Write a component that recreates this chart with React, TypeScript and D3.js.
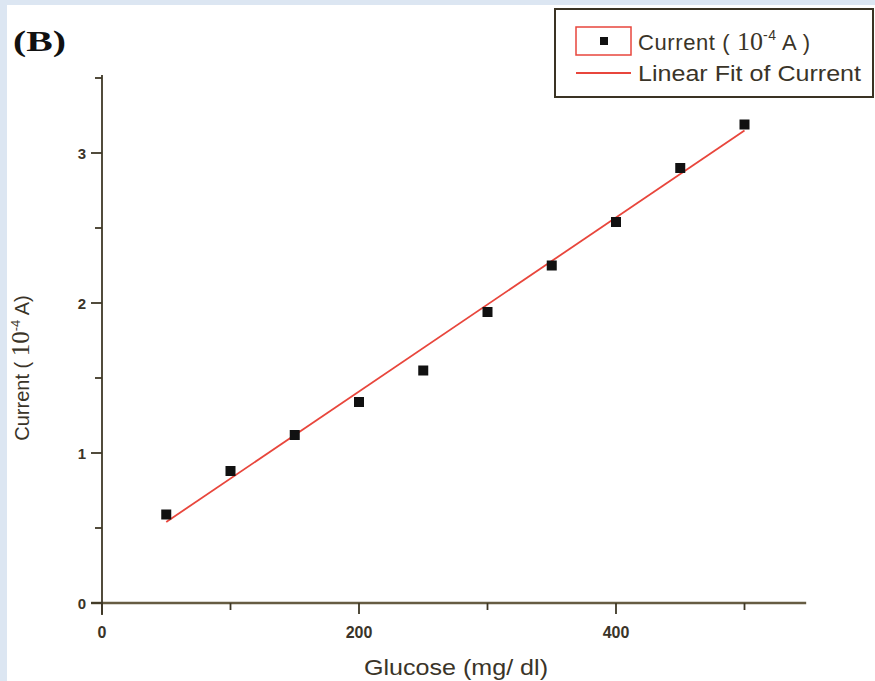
import React from "react";
import * as d3 from "d3";

const glucose = [50, 100, 150, 200, 250, 300, 350, 400, 450, 500];
const current = [0.59, 0.88, 1.12, 1.34, 1.55, 1.94, 2.25, 2.54, 2.9, 3.19];
const fitX = [50, 500];
const fitY = [0.54, 3.15];
const xMajorTicks = [0, 200, 400];
const xMinorTicks = [100, 300, 500];
const yMajorTicks = [0, 1, 2, 3];
const yMinorTicks = [0.5, 1.5, 2.5, 3.5];

const W = 875;
const H = 681;
const axisColor = "#3f3826";
const textColor = "#3a3428";
const red = "#e8463c";
const sans = "'Liberation Sans', Arial, sans-serif";
const serif = "'Liberation Serif', 'Times New Roman', serif";

export default function App() {
  const x = d3.scaleLinear().domain([0, 500]).range([102, 744.5]);
  const y = d3.scaleLinear().domain([0, 3]).range([603, 153]);
  const line = d3
    .line<number>()
    .x((_, i) => x(fitX[i]))
    .y((d) => y(d));

  return (
    <svg
      width={W}
      height={H}
      style={{ position: "absolute", left: 0, top: 0, background: "#ffffff" }}
    >
      <rect x={0} y={0} width={W} height={H} fill="#ffffff" />
      <rect x={0} y={0} width={W} height={5} fill="#dce6f2" />
      <rect x={0} y={0} width={7} height={H} fill="#dce6f2" />

      <text
        x={13}
        y={51}
        fontFamily={serif}
        fontWeight="bold"
        fontSize={30}
        fill="#111"
        textLength={53}
        lengthAdjust="spacingAndGlyphs"
      >
        (B)
      </text>

      {/* axes */}
      <line x1={x(-8.5)} x2={x(548)} y1={y(0)} y2={y(0)} stroke="#665c42" strokeWidth={2.6} />
      <line x1={x(0)} x2={x(0)} y1={y(3.52)} y2={y(-0.08)} stroke={axisColor} strokeWidth={1.8} />

      {xMajorTicks.map((t) => (
        <g key={"xm" + t}>
          <line x1={x(t)} x2={x(t)} y1={y(0)} y2={y(0) + 11} stroke={axisColor} strokeWidth={1.8} />
          <text
            x={x(t)}
            y={y(0) + 35}
            textAnchor="middle"
            fontFamily={sans}
            fontWeight="bold"
            fontSize={16}
            fill={textColor}
          >
            {t}
          </text>
        </g>
      ))}
      {xMinorTicks.map((t) => (
        <line key={"xn" + t} x1={x(t)} x2={x(t)} y1={y(0)} y2={y(0) + 7} stroke={axisColor} strokeWidth={1.8} />
      ))}
      {yMajorTicks.map((t) => (
        <g key={"ym" + t}>
          <line x1={x(0) - 11} x2={x(0)} y1={y(t)} y2={y(t)} stroke={axisColor} strokeWidth={1.8} />
          <text
            x={x(0) - 16}
            y={y(t) + 5.5}
            textAnchor="end"
            fontFamily={sans}
            fontWeight="bold"
            fontSize={15}
            fill={textColor}
          >
            {t}
          </text>
        </g>
      ))}
      {yMinorTicks.map((t) => (
        <line key={"yn" + t} x1={x(0) - 7} x2={x(0)} y1={y(t)} y2={y(t)} stroke={axisColor} strokeWidth={1.8} />
      ))}

      {/* axis titles */}
      <text
        x={456}
        y={675}
        textAnchor="middle"
        fontFamily={sans}
        fontSize={22}
        fill={textColor}
        textLength={184}
        lengthAdjust="spacingAndGlyphs"
      >
        Glucose (mg/ dl)
      </text>
      <g transform="translate(29,368) rotate(-90)">
        <text textAnchor="middle" fontFamily={sans} fontSize={20} fill={textColor}>
          <tspan>Current ( </tspan>
          <tspan fontFamily={serif} fontSize={25}>10</tspan>
          <tspan fontSize={13} dy={-9}>-4</tspan>
          <tspan dy={9}> A)</tspan>
        </text>
      </g>

      {/* fit line */}
      <path d={line(fitY) || ""} fill="none" stroke={red} strokeWidth={1.8} />

      {/* markers */}
      {glucose.map((g, i) => (
        <rect key={"p" + i} x={x(g) - 5} y={y(current[i]) - 5} width={10} height={10} fill="#111" />
      ))}

      {/* legend */}
      <rect x={555} y={9} width={318} height={88} fill="#ffffff" stroke="#3a3324" strokeWidth={2} />
      <rect x={576} y={27} width={55} height={28} fill="none" stroke={red} strokeWidth={1.5} />
      <rect x={600} y={37} width={8} height={8} fill="#111" />
      <text x={638} y={50} fontFamily={sans} fontSize={22} fill={textColor} letterSpacing={0.6}>
        <tspan>Current ( </tspan>
        <tspan fontFamily={serif} fontSize={26} letterSpacing={0}>10</tspan>
        <tspan fontSize={14} dy={-10}>-4</tspan>
        <tspan dy={10}> A )</tspan>
      </text>
      <line x1={576} x2={631} y1={73} y2={73} stroke={red} strokeWidth={1.8} />
      <text
        x={638}
        y={81}
        fontFamily={sans}
        fontSize={22}
        fill={textColor}
        textLength={223}
        lengthAdjust="spacingAndGlyphs"
      >
        Linear Fit of Current
      </text>
    </svg>
  );
}
